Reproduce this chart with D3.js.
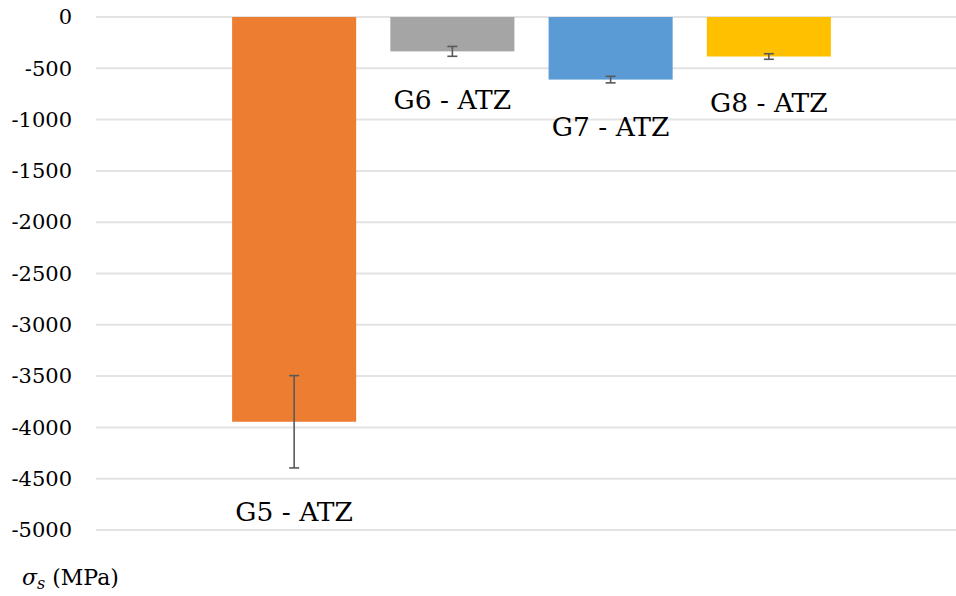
<!DOCTYPE html>
<html>
<head>
<meta charset="utf-8">
<script src="https://cdn.jsdelivr.net/npm/d3@7"></script>
<style>
  body { margin: 0; background: #fff; }
</style>
</head>
<body>
<div id="chart"></div>
<script>
const groups = ["G5 - ATZ", "G6 - ATZ", "G7 - ATZ", "G8 - ATZ"];
const stress = [-3945, -335, -610, -385];
const errors = [450, 48, 32, 27];
const colors = ["#ED7D31", "#A5A5A5", "#5B9BD5", "#FFC000"];
const yTicks = [0, -500, -1000, -1500, -2000, -2500, -3000, -3500, -4000, -4500, -5000];

const width = 956, height = 596;
const serif = "DejaVu Serif";

const svg = d3.select("#chart")
  .append("svg")
    .attr("width", width)
    .attr("height", height)
    .attr("font-family", serif);

const y = d3.scaleLinear()
  .domain([0, -5000])
  .range([17, 530]);

const x = d3.scaleBand()
  .domain(groups)
  .range([153, 910])
  .paddingInner(0.216)
  .paddingOuter(0.5);

// gridlines
svg.append("g")
  .selectAll("line")
  .data(yTicks)
  .join("line")
    .attr("x1", 96)
    .attr("x2", width)
    .attr("y1", d => y(d))
    .attr("y2", d => y(d))
    .attr("stroke", "#e3e3e3")
    .attr("stroke-width", 2);

// y axis labels (plain hyphen like the original)
const yAxis = d3.axisLeft(y)
  .tickValues(yTicks)
  .tickSize(0)
  .tickPadding(0)
  .tickFormat(d => String(d));

svg.append("g")
  .attr("transform", "translate(72,0)")
  .call(yAxis)
  .call(g => g.select(".domain").remove())
  .call(g => g.attr("font-family", serif).attr("font-size", 21))
  .call(g => g.selectAll("text")
    .attr("font-family", serif)
    .attr("font-size", 21)
    .attr("fill", "#000"));

const data = groups.map((g, i) => ({ g, v: stress[i], e: errors[i], c: colors[i] }));

// bars
svg.selectAll("rect.bar")
  .data(data)
  .join("rect")
    .attr("class", "bar")
    .attr("x", d => x(d.g))
    .attr("y", y(0))
    .attr("width", x.bandwidth())
    .attr("height", d => y(d.v) - y(0))
    .attr("fill", d => d.c);

// error bars
const eb = svg.append("g")
  .attr("stroke", "#595959")
  .attr("stroke-width", 1.6);

data.forEach(d => {
  const cx = x(d.g) + x.bandwidth() / 2;
  const top = y(d.v + d.e), bot = y(d.v - d.e);
  eb.append("line").attr("x1", cx).attr("x2", cx).attr("y1", top).attr("y2", bot);
  eb.append("line").attr("x1", cx - 5).attr("x2", cx + 5).attr("y1", top).attr("y2", top);
  eb.append("line").attr("x1", cx - 5).attr("x2", cx + 5).attr("y1", bot).attr("y2", bot);
});

// group labels
svg.selectAll("text.lbl")
  .data(data)
  .join("text")
    .attr("class", "lbl")
    .attr("x", d => x(d.g) + x.bandwidth() / 2)
    .attr("y", d => y(d.v - d.e) + 53)
    .attr("text-anchor", "middle")
    .attr("font-family", serif)
    .attr("font-size", 26.5)
    .text(d => d.g);

// axis title
const title = svg.append("text")
  .attr("x", 22)
  .attr("y", 585)
  .attr("font-family", serif)
  .attr("font-size", 22);
title.append("tspan").attr("font-style", "italic").text("σ");
title.append("tspan").attr("font-style", "italic").attr("font-size", 16).attr("dy", 4).text("s");
title.append("tspan").attr("dy", -4).text(" (MPa)");
</script>
</body>
</html>
